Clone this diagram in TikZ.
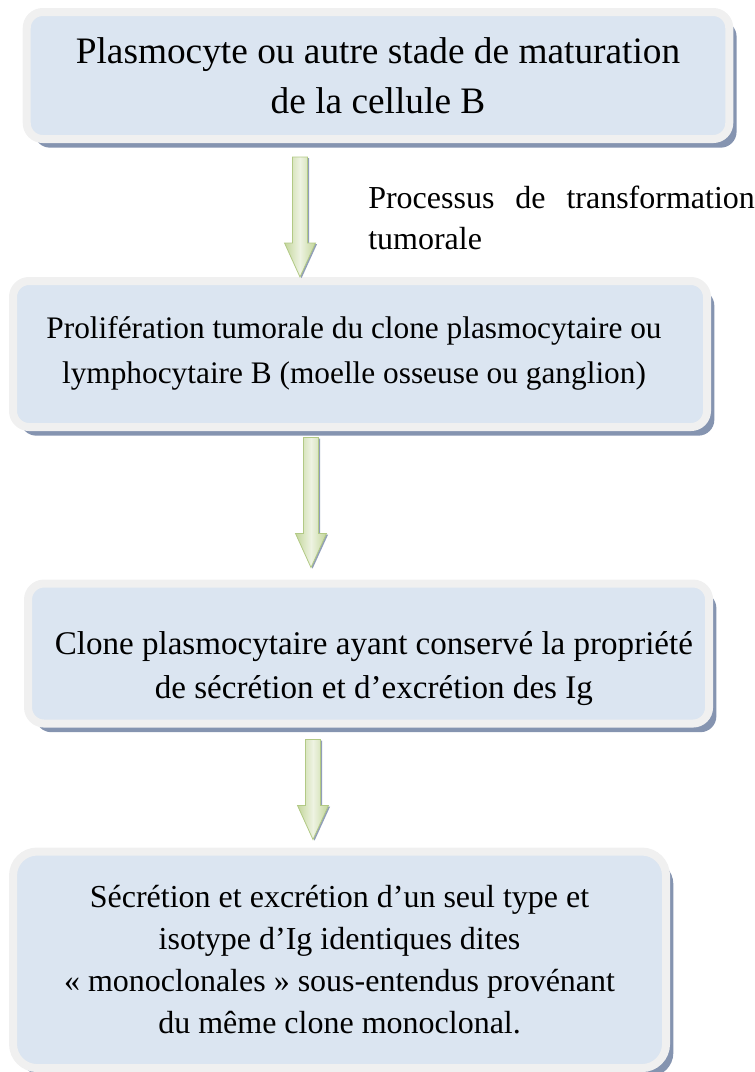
\documentclass[tikz,border=0pt]{standalone}
\usepackage{fontspec}
\setmainfont{Liberation Serif}
\usetikzlibrary{positioning,calc,shadows}
\definecolor{cFill}{HTML}{DBE5F1}
\definecolor{cRim}{HTML}{F0F0F0}
\definecolor{cShade}{HTML}{8594B0}
\definecolor{cArrowDk}{HTML}{C3D69B}
\definecolor{cArrowLt}{HTML}{EEF3E2}
\definecolor{cArrowLine}{HTML}{B2C985}
% text block moved by (#1,#2) inside its box
\newcommand{\movedtext}[3]{\raisebox{#2}[\height][\depth]{\kern#1\begin{tabular}{@{}c@{}}#3\end{tabular}\kern-#1}}
\tikzset{
  box/.style={draw=cRim,line width=6pt,fill=cFill,rounded corners=12pt,align=center,
              inner sep=6pt,text=black,
              drop shadow={shadow xshift=5.5pt,shadow yshift=-6.5pt,fill=cShade,opacity=1}},
  tOne/.style={font=\fontsize{28}{37.5}\selectfont},
  tTwo/.style={font=\fontsize{23.5}{34}\selectfont},
  tThree/.style={font=\fontsize{24.8}{33}\selectfont},
  tFour/.style={font=\fontsize{24}{31.5}\selectfont},
  lbl/.style={font=\fontsize{24}{30.75}\selectfont,align=left,inner sep=0pt},
  garrow/.style={draw=cArrowLine,line width=0.6pt,left color=cArrowDk,right color=cArrowDk,
                 middle color=cArrowLt,
                 drop shadow={shadow xshift=1.2pt,shadow yshift=-0.8pt,fill=cShade,opacity=0.9},
                 to path={let \p1=(\tikztostart), \p2=(\tikztotarget) in
                   (\x1-5.6pt,\y1) -- (\x1+5.6pt,\y1) -- (\x1+5.6pt,\y2+25.5pt)
                   -- (\x1+11.6pt,\y2+25.5pt) -- (\x1,\y2) -- (\x1-11.6pt,\y2+25.5pt)
                   -- (\x1-5.6pt,\y2+25.5pt) -- cycle}},
}

\begin{document}
\begin{tikzpicture}[x=0.75pt,y=0.75pt]
\useasboundingbox (0,0) rectangle (754,-1072);

% ============ BOXES ============
\node[box, tOne, minimum width=526.9pt, minimum height=95.25pt] (plasmo) at (378,-75.5)
   {Plasmocyte ou autre stade de maturation\\ de la cellule B};
\node[box, tTwo, minimum width=520.5pt, minimum height=109.5pt, below=100.5pt of plasmo, xshift=-13.5pt] (prolif)
   {\movedtext{-4.5pt}{1.5pt}{Prolifération tumorale du clone plasmocytaire ou\\ lymphocytaire B (moelle osseuse ou ganglion)}};
\node[box, tThree, minimum width=510.75pt, minimum height=105pt, below=111.4pt of prolif, xshift=6.4pt] (clone)
   {\movedtext{4pt}{-10.5pt}{Clone plasmocytaire ayant conservé la propriété\\ de sécrétion et d’excrétion des Ig}};
\node[box, tFour, minimum width=489.75pt, minimum height=162.4pt, rounded corners=18pt, below=90pt of clone, xshift=-21.75pt] (secret)
   {Sécrétion et excrétion d’un seul type et\\ isotype d’Ig identiques dites\\
    « monoclonales » sous-entendus provénant\\ du même clone monoclonal.};

% label of the first step
\node[lbl, anchor=west] (transfo) at (368,-217.5)
   {\makebox[290pt][s]{Processus de transformation}\\ tumorale};

% ---------- arrow columns ----------
\coordinate (ax1) at (300,0);
\coordinate (ax2) at (311,0);
\coordinate (ax3) at (313,0);

% ---------- edges ----------
\draw[garrow] ($(plasmo.south -| ax1)+(0,-14)$) to (prolif.north -| ax1);
\draw[garrow] ($(prolif.south -| ax2)+(0,-6.5)$) to ($(clone.north -| ax2)+(0,12)$);
\draw[garrow] ($(clone.south -| ax3)+(0,-12)$) to ($(secret.north -| ax3)+(0,8)$);

\end{tikzpicture}
\end{document}
